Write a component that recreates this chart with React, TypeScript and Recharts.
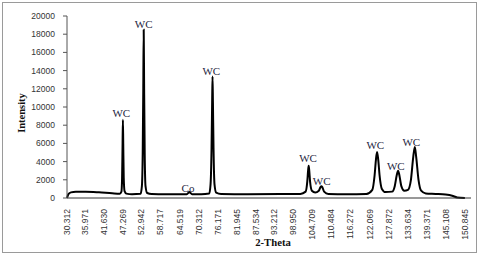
import React from 'react';
import { LineChart, Line, XAxis, YAxis, ReferenceDot } from 'recharts';

const theta = [
  30.312, 30.8, 31.5, 33, 36, 40, 44, 46.3, 46.8, 47.0, 47.15, 47.25, 47.35, 47.5, 47.75, 48.3,
  50, 52.6, 53.0, 53.25, 53.42, 53.55, 53.68, 53.85, 54.1, 54.6, 56, 60, 64, 66.6, 67.4, 68.2,
  71, 73.4, 73.8, 74.1, 74.28, 74.4, 74.52, 74.7, 75.0, 75.5, 77, 85, 95, 101, 102.6, 103.1,
  103.35, 103.52, 103.7, 103.95, 104.5, 105.5, 106.6, 107.1, 107.37, 107.65, 108.2, 109.5, 115, 121,
  122.8, 123.5, 123.9, 124.24, 124.6, 125.0, 125.7, 126.8, 128.8, 129.6, 130.2, 130.62, 131.0, 131.6,
  132.5, 133.6, 134.5, 135.2, 135.68, 136.1, 136.8, 137.6, 139, 142, 145, 147, 148.5, 150.845,
];
const intensity = [
  0, 450, 620, 680, 680, 620, 520, 480, 700, 2200, 6000, 8600, 6000, 2200, 750, 480,
  420, 460, 1300, 5000, 12000, 18500, 12000, 5000, 1300, 550, 430, 400, 400, 420, 650, 420,
  420, 500, 1500, 5500, 10500, 13350, 10500, 5500, 1500, 600, 450, 420, 430, 450, 700, 1800,
  3000, 3550, 3000, 1800, 800, 600, 800, 1200, 1300, 1200, 700, 450, 420, 450,
  900, 2500, 4200, 5050, 4200, 2500, 1000, 650, 700, 1300, 2500, 3000, 2500, 1300,
  800, 900, 2000, 4500, 5600, 4500, 2000, 800, 500, 450, 380, 250, 60, 0,
];

const xTicks = [
  30.312, 35.971, 41.63, 47.269, 52.942, 58.717, 64.519, 70.312, 76.171, 81.945, 87.534,
  93.212, 98.95, 104.709, 110.484, 116.272, 122.069, 127.872, 133.634, 139.371, 145.108, 150.845,
];
const yTicks = [0, 2000, 4000, 6000, 8000, 10000, 12000, 14000, 16000, 18000, 20000];

const peakTheta = [46.76, 53.55, 66.97, 74.03, 103.32, 107.47, 123.71, 129.92, 134.62];
const peakLabelIntensity = [8868, 18648, 681, 13484, 3956, 1396, 5352, 3044, 5714];
const peakLabels = ['WC', 'WC', 'Co', 'WC', 'WC', 'WC', 'WC', 'WC', 'WC'];

const data = theta.map((t, i) => ({ t, v: intensity[i] }));

const sans = 'Liberation Sans, Arial, sans-serif';
const serif = 'Liberation Serif, Times New Roman, serif';

const XTick = (props: any) => {
  const { x, y, payload } = props;
  return (
    <g transform={`translate(${x},${y + 11})`}>
      <text transform="rotate(-90)" textAnchor="end" dy="0.32em" fontSize={8.5} fill="#333" fontFamily={sans}>
        {Number(payload.value).toFixed(3)}
      </text>
    </g>
  );
};

const YTitle = (props: any) => {
  const vb = props.viewBox;
  const cx = vb.x + 21.7;
  const cy = vb.y + vb.height / 2 + 6;
  return (
    <text x={cx} y={cy} transform={`rotate(-90, ${cx}, ${cy})`} textAnchor="middle" dy="0.35em"
      fontSize={10.5} fontWeight="bold" fontFamily={serif} fill="#111">
      Intensity
    </text>
  );
};

const XTitle = (props: any) => {
  const vb = props.viewBox;
  return (
    <text x={vb.x + vb.width / 2 + 4} y={245.5} textAnchor="middle"
      fontSize={10.7} fontWeight="bold" fontFamily={serif} fill="#111">
      2-Theta
    </text>
  );
};

export default function App() {
  return (
    <div style={{ position: 'absolute', left: 0, top: 0, width: 480, height: 257, background: '#fff' }}>
      <div style={{ position: 'absolute', left: 2, top: 2, width: 473, height: 249, border: '1px solid #9a9a9a' }} />
      <LineChart width={480} height={257} data={data} margin={{ top: 16, right: 9, bottom: 0, left: 0 }}>
        <XAxis
          dataKey="t"
          type="number"
          domain={[30.312, 152.7]}
          ticks={xTicks}
          interval={0}
          tick={<XTick />}
          tickLine={false}
          tickSize={0}
          tickMargin={0}
          height={59}
          axisLine={{ stroke: '#333', strokeWidth: 1 }}
          label={{ content: <XTitle /> } as any}
        />
        <YAxis
          type="number"
          domain={[0, 20000]}
          ticks={yTicks}
          interval={0}
          width={67}
          tickSize={4}
          tickMargin={8}
          tick={{ fontSize: 8.5, fill: '#333', fontFamily: sans }}
          tickLine={{ stroke: '#555' }}
          axisLine={{ stroke: '#555', strokeWidth: 1 }}
          label={{ content: <YTitle /> } as any}
        />
        <Line
          type="monotone"
          dataKey="v"
          stroke="#000"
          strokeWidth={2}
          dot={false}
          isAnimationActive={false}
        />
        {peakTheta.map((t, i) => (
          <ReferenceDot
            key={i}
            x={t}
            y={peakLabelIntensity[i]}
            r={0}
            shape={(p: any) => (
              <text x={p.cx} y={p.cy} textAnchor="middle" fontSize={11} fontFamily={serif} fill="#1f1f3f">
                {peakLabels[i]}
              </text>
            )}
          />
        ))}
      </LineChart>
    </div>
  );
}
